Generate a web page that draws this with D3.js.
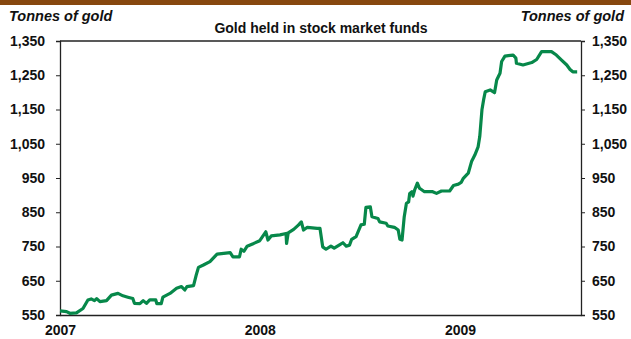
<!DOCTYPE html>
<html>
<head>
<meta charset="utf-8">
<script src="https://cdn.jsdelivr.net/npm/d3@7"></script>
<style>
  html, body { margin: 0; padding: 0; background: #fff; }
  svg { display: block; font-family: "Liberation Sans", Arial, sans-serif; }
</style>
</head>
<body>
<svg id="chart" width="631" height="339"></svg>
<script>
// gold held in ETFs, tonnes
let dates = [
  "2007-01-01", "2007-01-13", "2007-01-19", "2007-01-31", "2007-02-12", "2007-02-21", "2007-02-27",
  "2007-03-05", "2007-03-09", "2007-03-15", "2007-03-27", "2007-04-05", "2007-04-17", "2007-04-26",
  "2007-05-05", "2007-05-14", "2007-05-17", "2007-05-27", "2007-06-02", "2007-06-08", "2007-06-14",
  "2007-06-25", "2007-06-27", "2007-07-05", "2007-07-08", "2007-07-21", "2007-08-02", "2007-08-11",
  "2007-08-17", "2007-08-21", "2007-09-02", "2007-09-07", "2007-09-11", "2007-09-20", "2007-10-02",
  "2007-10-15", "2007-11-08", "2007-11-13", "2007-11-25", "2007-11-28", "2007-12-03", "2007-12-09",
  "2007-12-21", "2008-01-01", "2008-01-12", "2008-01-16", "2008-01-22", "2008-02-07", "2008-02-18",
  "2008-02-19", "2008-02-22", "2008-03-03", "2008-03-12", "2008-03-17", "2008-03-21", "2008-03-28",
  "2008-04-15", "2008-04-20", "2008-04-25", "2008-05-01", "2008-05-10", "2008-05-16", "2008-05-25",
  "2008-06-01", "2008-06-07", "2008-06-13", "2008-06-17", "2008-06-25", "2008-07-04", "2008-07-10",
  "2008-07-13", "2008-07-21", "2008-07-24", "2008-08-04", "2008-08-07", "2008-08-19", "2008-08-22",
  "2008-09-03", "2008-09-10", "2008-09-13", "2008-09-17", "2008-09-21", "2008-09-25", "2008-09-29",
  "2008-10-01", "2008-10-05", "2008-10-07", "2008-10-10", "2008-10-15", "2008-10-19", "2008-10-28",
  "2008-11-12", "2008-11-19", "2008-11-28", "2008-12-13", "2008-12-20", "2008-12-29", "2009-01-03",
  "2009-01-07", "2009-01-16", "2009-01-22", "2009-01-28", "2009-02-03", "2009-02-06", "2009-02-10",
  "2009-02-13", "2009-02-16", "2009-02-25", "2009-03-05", "2009-03-09", "2009-03-15", "2009-03-18",
  "2009-03-24", "2009-04-08", "2009-04-13", "2009-04-14", "2009-04-26", "2009-05-12", "2009-05-21",
  "2009-05-30", "2009-06-17", "2009-06-26", "2009-07-05", "2009-07-15", "2009-07-21", "2009-07-26",
  "2009-08-03"
];
let tonnes = [
  562, 560, 555, 556, 569, 594, 597,
  592, 598, 589, 592, 608, 613, 606,
  602, 598, 584, 583, 592, 584, 594,
  594, 583, 583, 602, 613, 628, 633,
  623, 633, 636, 667, 689, 696, 706,
  728, 732, 720, 720, 742, 736, 751,
  759, 767, 793, 769, 781, 784, 788,
  759, 790, 800, 813, 822, 798, 806,
  803, 803, 749, 742, 751, 745, 754,
  761, 751, 754, 771, 779, 813, 815,
  864, 866, 837, 832, 822, 818, 810,
  806, 798, 771, 769, 837, 876, 880,
  905, 910, 897, 915, 935, 920, 910,
  910, 905, 912, 912, 928, 932, 937,
  949, 964, 998, 1017, 1041, 1071, 1149,
  1178, 1202, 1207, 1199, 1236, 1256, 1290,
  1306, 1309, 1300, 1285, 1280, 1287, 1296,
  1319, 1319, 1309, 1295, 1280, 1267, 1260,
  1260
];
let yTicks = [550, 650, 750, 850, 950, 1050, 1150, 1250, 1350];
let xYears = ["2007", "2008", "2009"];

let parse = d3.timeParse("%Y-%m-%d");
let series = dates.map((d, i) => ({ date: parse(d), value: tonnes[i] }));

let svg = d3.select("#chart");
let plot = { left: 60, right: 581, top: 41, bottom: 315 };

let x = d3.scaleTime()
  .domain([parse("2007-01-01"), parse("2009-08-10")])
  .range([plot.left, plot.right]);
let y = d3.scaleLinear()
  .domain([550, 1350])
  .range([plot.bottom, plot.top]);

// brown band across the top
svg.append("rect")
  .attr("x", 0).attr("y", 0)
  .attr("width", 631).attr("height", 5)
  .attr("fill", "#87480f");

// y axes, both sides
let fmt = d3.format(",");
let leftAxis = svg.append("g")
  .attr("transform", `translate(${plot.left},0)`)
  .call(d3.axisLeft(y).tickValues(yTicks).tickFormat(fmt).tickSize(4).tickPadding(11));
let rightAxis = svg.append("g")
  .attr("transform", `translate(${plot.right},0)`)
  .call(d3.axisRight(y).tickValues(yTicks).tickFormat(fmt).tickSize(4).tickPadding(7));

[leftAxis, rightAxis].forEach(g => {
  g.select(".domain").attr("stroke", "#222").attr("stroke-width", 1.3);
  g.selectAll(".tick line").attr("stroke", "#222");
  g.selectAll(".tick text")
    .attr("fill", "#111")
    .style("font-size", "14px")
    .style("font-weight", "bold");
});

// x axis (labels only, no ticks)
let bottomAxis = svg.append("g")
  .attr("transform", `translate(0,${plot.bottom})`)
  .call(d3.axisBottom(x)
    .tickValues(xYears.map(s => parse(s + "-01-01")))
    .tickFormat(d3.timeFormat("%Y"))
    .tickSize(0).tickPadding(10));
bottomAxis.select(".domain").attr("stroke", "#222").attr("stroke-width", 1.3);
bottomAxis.selectAll(".tick text")
  .attr("fill", "#111")
  .style("font-size", "14px")
  .style("font-weight", "bold");

// top frame line
svg.append("line")
  .attr("x1", plot.left).attr("x2", plot.right)
  .attr("y1", plot.top).attr("y2", plot.top)
  .attr("stroke", "#222").attr("stroke-width", 1.3);

// the series
let line = d3.line()
  .x(d => x(d.date))
  .y(d => y(d.value));
svg.append("path")
  .datum(series)
  .attr("d", line)
  .attr("fill", "none")
  .attr("stroke", "#07884a")
  .attr("stroke-width", 3.2)
  .attr("stroke-linejoin", "round");

// titles
svg.append("text")
  .attr("x", 9).attr("y", 21)
  .style("font-size", "14.5px").style("font-weight", "bold").style("font-style", "italic")
  .attr("fill", "#111")
  .text("Tonnes of gold");
svg.append("text")
  .attr("x", 624).attr("y", 21)
  .attr("text-anchor", "end")
  .style("font-size", "14.5px").style("font-weight", "bold").style("font-style", "italic")
  .attr("fill", "#111")
  .text("Tonnes of gold");
svg.append("text")
  .attr("x", 321).attr("y", 33)
  .attr("text-anchor", "middle")
  .style("font-size", "14px").style("font-weight", "bold")
  .attr("fill", "#111")
  .text("Gold held in stock market funds");
</script>
</body>
</html>
